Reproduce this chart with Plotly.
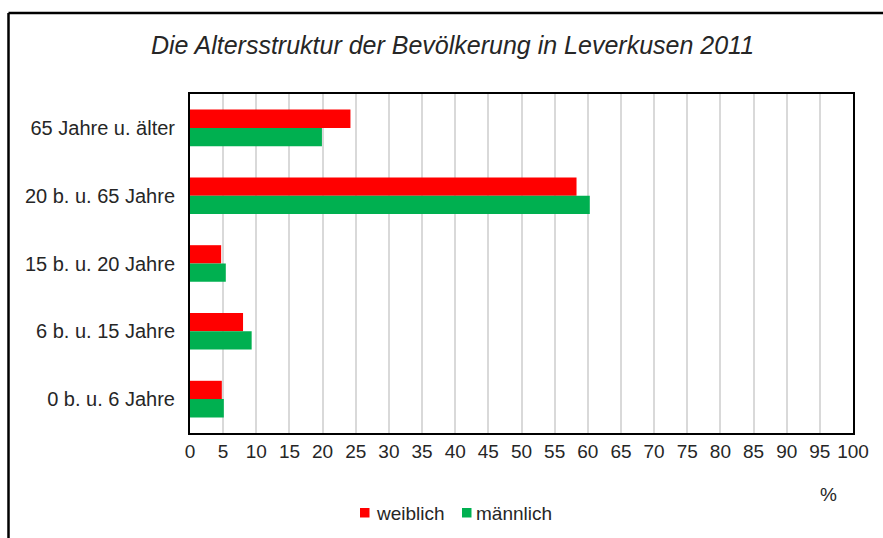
import plotly.graph_objects as go

categories = ["65 Jahre u. älter", "20 b. u. 65 Jahre", "15 b. u. 20 Jahre",
              "6 b. u. 15 Jahre", "0 b. u. 6 Jahre"]
weiblich = [24.2, 58.3, 4.7, 8.0, 4.8]
maennlich = [19.9, 60.3, 5.4, 9.3, 5.1]
series_names = ["weiblich", "männlich"]
series_colors = ["#FF0000", "#00B050"]
x_ticks = list(range(0, 101, 5))

FONT = "Liberation Sans, Arial, sans-serif"
TXT = "#262626"

# plot-area pixel geometry (for paper-coordinate helpers)
L, R, T, B = 190, 853, 94, 433
PW, PH = R - L, B - T


def px(x):
    return (x - L) / PW


def py(y):
    return (B - y) / PH


fig = go.Figure()
for name, vals, col in zip(series_names, [weiblich, maennlich], series_colors):
    fig.add_trace(go.Bar(y=categories, x=vals, orientation="h", name=name,
                         marker=dict(color=col, line=dict(width=0)),
                         showlegend=False))

fig.update_layout(
    width=883, height=538,
    margin=dict(l=L, r=883 - R, t=T, b=538 - B),
    paper_bgcolor="white", plot_bgcolor="white",
    barmode="group", bargap=0.46, bargroupgap=0,
    font=dict(family=FONT, size=19, color=TXT),
    title=dict(text="<i>Die Altersstruktur der Bevölkerung in Leverkusen 2011</i>",
               x=0.5125, xanchor="center", y=1 - 45 / 538, yanchor="middle",
               font=dict(family=FONT, size=25, color=TXT)),
    xaxis=dict(range=[0, 100], tickvals=x_ticks, ticktext=[str(v) for v in x_ticks],
               showgrid=True, gridcolor="#D9D9D9", gridwidth=2,
               showline=True, linecolor="black", linewidth=2, mirror=True,
               zeroline=False, ticks="", ticklabelstandoff=0,
               tickfont=dict(size=19)),
    yaxis=dict(categoryorder="array", categoryarray=categories, autorange="reversed",
               showline=True, linecolor="black", linewidth=2, mirror=True,
               showgrid=False, ticks="", ticklabelstandoff=9,
               tickfont=dict(size=20)),
    showlegend=False,
)

# "%" unit label
fig.add_annotation(text="%", xref="paper", yref="paper",
                   x=px(828), y=py(494),
                   xanchor="center", yanchor="middle", showarrow=False,
                   font=dict(size=19, family=FONT, color=TXT))

# legend (squares + labels)
legend_sq_x = [360, 462]
legend_txt_x = [374, 474]
for name, col, sx, tx in zip(series_names, series_colors, legend_sq_x, legend_txt_x):
    fig.add_shape(type="rect", xref="paper", yref="paper",
                  x0=px(sx), x1=px(sx + 9.5), y0=py(508), y1=py(517.5),
                  fillcolor=col, line=dict(width=0))
    fig.add_annotation(text=name, xref="paper", yref="paper",
                       x=px(tx), y=py(513), xanchor="left", yanchor="middle",
                       showarrow=False,
                       font=dict(size=19, family=FONT, color=TXT))

# outer frame lines
fig.add_shape(type="line", xref="paper", yref="paper",
              x0=px(8.5), x1=px(884), y0=py(13), y1=py(13),
              line=dict(color="black", width=2.5))
fig.add_shape(type="line", xref="paper", yref="paper",
              x0=px(8.5), x1=px(8.5), y0=py(13), y1=py(540),
              line=dict(color="black", width=2.5))

fig.write_html("out.html", config={"displayModeBar": False},
               post_script="document.body.style.margin='0';document.body.style.padding='0';")
